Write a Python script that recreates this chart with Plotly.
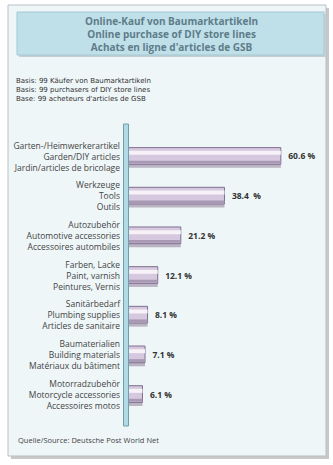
import plotly.graph_objects as go

categories = [
    "Garten-/Heimwerkerartikel<br>Garden/DIY articles<br>Jardin/articles de bricolage",
    "Werkzeuge<br>Tools<br>Outils",
    "Autozubehör<br>Automotive accessories<br>Accessoires autombiles",
    "Farben, Lacke<br>Paint, varnish<br>Peintures, Vernis",
    "Sanitärbedarf<br>Plumbing supplies<br>Articles de sanitaire",
    "Baumaterialien<br>Building materials<br>Matériaux du bâtiment",
    "Motorradzubehör<br>Motorcycle accessories<br>Accessoires motos",
]
values = [60.6, 38.4, 21.2, 12.1, 8.1, 7.1, 6.1]
value_labels = ["60.6 %", "38.4  %", "21.2 %", "12.1 %", "8.1 %", "7.1 %", "6.1 %"]

title_lines = [
    "Online-Kauf von Baumarktartikeln",
    "Online purchase of DIY store lines",
    "Achats en ligne d'articles de GSB",
]
basis_lines = [
    "Basis: 99 Käufer von Baumarktartikeln",
    "Basis: 99 purchasers of DIY store lines",
    "Base: 99 acheteurs d'articles de GSB",
]
source = "Quelle/Source: Deutsche Post World Net"

W, H = 333, 465
pos = list(range(len(categories)))

def px(x):
    return x / W

def py(y):
    return 1 - y / H

fig = go.Figure()

# shadow
fig.add_trace(go.Bar(
    x=values, y=pos, orientation="h", width=0.36, offset=-0.08,
    marker=dict(color="#b9b3c2", line=dict(width=0)), hoverinfo="skip",
))
# main bar
fig.add_trace(go.Bar(
    x=values, y=pos, orientation="h", width=0.42, offset=-0.23,
    marker=dict(color="#d6c8df", line=dict(color="#7f7090", width=1)),
    text=["  " + v for v in value_labels], textposition="outside", cliponaxis=False,
    textfont=dict(family="Open Sans", size=8.5, color="#333333", weight="bold"),
    hoverinfo="skip",
))
# highlight
fig.add_trace(go.Bar(
    x=values, y=pos, orientation="h", width=0.1, offset=-0.15,
    marker=dict(color="#f6f2f8", line=dict(width=0)), hoverinfo="skip",
))
# lower dark band
fig.add_trace(go.Bar(
    x=values, y=pos, orientation="h", width=0.07, offset=0.1,
    marker=dict(color="#a898b4", line=dict(width=0)), hoverinfo="skip",
))

shapes = [
    dict(type="rect", xref="paper", yref="paper", x0=px(11), x1=px(329), y0=py(459), y1=py(8),
         fillcolor="#c8c8c8", line=dict(width=0), layer="below"),
    dict(type="rect", xref="paper", yref="paper", x0=px(8), x1=px(326), y0=py(456), y1=py(5),
         fillcolor="#eef6f8", line=dict(color="#b8c0c4", width=1), layer="below"),
    dict(type="rect", xref="paper", yref="paper", x0=px(19), x1=px(326), y0=py(57), y1=py(14),
         fillcolor="#c4d0d4", line=dict(width=0), layer="below"),
    dict(type="rect", xref="paper", yref="paper", x0=px(17), x1=px(324), y0=py(55), y1=py(12),
         fillcolor="#bfe0e8", line=dict(color="#a4c8d2", width=1), layer="below"),
    dict(type="rect", xref="paper", yref="paper", x0=px(123.5), x1=px(128.5), y0=py(426), y1=py(124),
         fillcolor="#b2dae4", line=dict(color="#6f9fab", width=1), layer="above"),
]

annotations = [
    dict(x=px(171), y=py(34), xref="paper", yref="paper", text="<br>".join(title_lines),
         showarrow=False, xanchor="center", yanchor="middle", align="center",
         font=dict(family="Open Sans", size=10, color="#5e7c8a", weight="bold")),
    dict(x=px(14), y=py(90.5), xref="paper", yref="paper", text="<br>".join(basis_lines),
         showarrow=False, xanchor="left", yanchor="middle", align="left",
         font=dict(family="DejaVu Sans", size=7, color="#333333")),
    dict(x=px(16), y=py(440), xref="paper", yref="paper", text=source, showarrow=False,
         xanchor="left", yanchor="middle",
         font=dict(family="Open Sans", size=7.5, color="#444444")),
]

fig.update_layout(
    width=W, height=H,
    margin=dict(l=0, r=0, t=0, b=0),
    paper_bgcolor="white",
    plot_bgcolor="rgba(0,0,0,0)",
    barmode="overlay",
    showlegend=False,
    shapes=shapes,
    annotations=annotations,
    xaxis=dict(domain=[px(127), px(325)], range=[0, 78], visible=False, fixedrange=True),
    yaxis=dict(
        domain=[py(425), py(125)], range=[6.76, -0.8],
        tickmode="array", tickvals=pos, ticktext=categories,
        showgrid=False, zeroline=False, showline=False, ticks="",
        ticklabelstandoff=6,
        tickfont=dict(family="Open Sans", size=8.5, color="#444444"),
        fixedrange=True,
    ),
)

fig.write_html("out.html")
